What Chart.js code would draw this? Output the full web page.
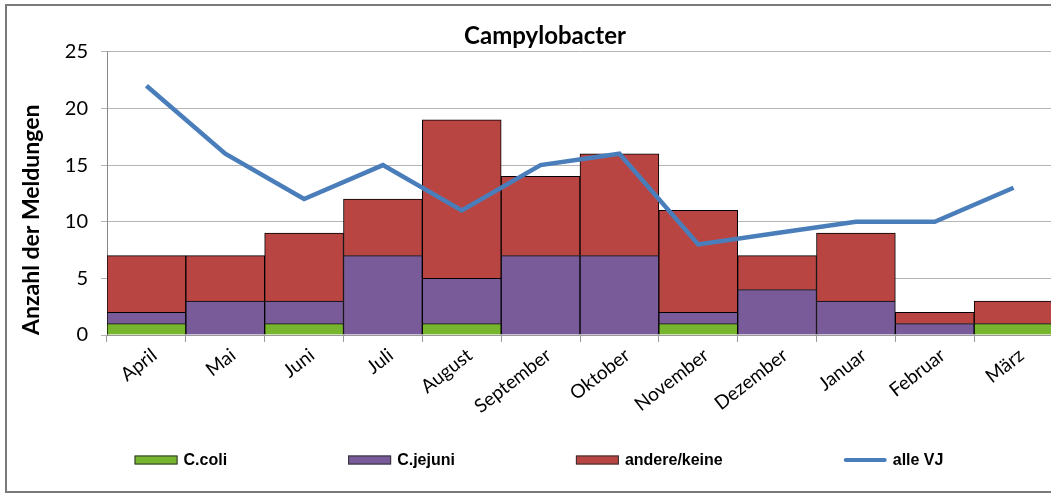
<!DOCTYPE html>
<html>
<head>
<meta charset="utf-8">
<script src="https://cdn.jsdelivr.net/npm/chart.js@4.4.1/dist/chart.umd.min.js"></script>
<style>
    body { margin: 0; background: #fff; overflow: hidden; }
    #frame {
        position: absolute; left: 5px; top: 4px;
        width: 1100px; height: 485px;
        border: 2px solid #7a7a7a;
    }
    #myChart { position: absolute; left: 0; top: 0; }
</style>
</head>
<body>
<div id="frame">
    <canvas id="myChart" width="1046" height="485"></canvas>
</div>
<script>
// --- DATA ---
const months = ['April', 'Mai', 'Juni', 'Juli', 'August', 'September', 'Oktober', 'November', 'Dezember', 'Januar', 'Februar', 'März'];
const cColi = [1, 0, 1, 0, 1, 0, 0, 1, 0, 0, 0, 1];
const cJejuni = [1, 3, 2, 7, 4, 7, 7, 1, 4, 3, 1, 0];
const andere = [5, 4, 6, 5, 14, 7, 9, 9, 3, 6, 1, 2];
const alleVJ = [22, 16, 12, 15, 11, 15, 16, 8, 9, 10, 10, 13];
const yTicks = [0, 5, 10, 15, 20, 25];

// Legende wie im Original: feste Abstände, unter dem Diagramm
const bottomLegend = {
    id: 'bottomLegend',
    afterDraw(chart) {
        const c = chart.ctx;
        const boxW = 43, boxH = 9, gap = 6, itemGap = 121;
        const y = 454;
        c.save();
        c.font = 'bold 16px "Liberation Sans", Arial, sans-serif';
        c.textBaseline = 'middle';
        const items = chart.data.datasets.map(ds => ({
            ds: ds, w: boxW + gap + c.measureText(ds.label).width
        }));
        let total = items.reduce((s, it) => s + it.w, 0) + itemGap * (items.length - 1);
        let x = 532 - total / 2;
        items.forEach(it => {
            if (it.ds.type === 'line') {
                c.strokeStyle = it.ds.borderColor;
                c.lineWidth = 4;
                c.lineCap = 'round';
                c.beginPath();
                c.moveTo(x + 2, y);
                c.lineTo(x + boxW - 2, y);
                c.stroke();
            } else {
                c.fillStyle = it.ds.backgroundColor;
                c.fillRect(x, y - boxH / 2, boxW, boxH);
                c.strokeStyle = '#333';
                c.lineWidth = 1;
                c.strokeRect(x + 0.5, y - boxH / 2 + 0.5, boxW - 1, boxH - 1);
            }
            c.fillStyle = '#000';
            c.fillText(it.ds.label, x + boxW + gap, y + 1);
            x += it.w + itemGap;
        });
        c.restore();
    }
};

const barStyle = { borderColor: '#000', borderWidth: 1, barPercentage: 1, categoryPercentage: 1, stack: 'bars', order: 1 };

const ctx = document.getElementById('myChart').getContext('2d');
new Chart(ctx, {
    data: {
        labels: months,
        datasets: [
            { type: 'bar', label: 'C.coli', data: cColi, backgroundColor: '#77B52F', ...barStyle },
            { type: 'bar', label: 'C.jejuni', data: cJejuni, backgroundColor: '#795B9A', ...barStyle },
            { type: 'bar', label: 'andere/keine', data: andere, backgroundColor: '#B94543', ...barStyle },
            {
                type: 'line', label: 'alle VJ', data: alleVJ,
                borderColor: '#4A7EBB', borderWidth: 4.5, pointRadius: 0,
                tension: 0, stack: 'line', order: 0
            }
        ]
    },
    options: {
        responsive: false,
        animation: false,
        layout: { padding: { left: 30, right: 0, top: 0, bottom: 56 } },
        plugins: {
            legend: { display: false },
            tooltip: { enabled: false },
            title: {
                display: true,
                text: 'Campylobacter',
                color: '#000',
                font: { family: 'Lato', size: 24, weight: 'bold' },
                padding: { top: 16, bottom: 1 }
            }
        },
        scales: {
            x: {
                stacked: true,
                offset: true,
                grid: { offset: true, drawOnChartArea: false, drawTicks: true, tickLength: 7, color: '#999' },
                border: { color: '#999' },
                ticks: {
                    color: '#000', minRotation: 38, maxRotation: 38, padding: 2, labelOffset: 8,
                    font: { family: 'Lato', size: 19 }
                },
                afterFit: s => { s.height = 100; }
            },
            y: {
                stacked: true,
                min: 0, max: 25,
                afterBuildTicks: s => { s.ticks = yTicks.map(v => ({ value: v })); },
                grid: { color: '#b5b5b5', tickLength: 6 },
                border: { color: '#888' },
                ticks: { color: '#000', padding: 13, font: { family: 'Lato', size: 20 } },
                title: {
                    display: true,
                    text: 'Anzahl der Meldungen',
                    align: 'start',
                    color: '#000',
                    font: { family: 'Lato', size: 23, weight: 'bold' },
                    padding: { top: -19, bottom: 0 }
                },
                afterFit: s => { s.width = 70; }
            }
        }
    },
    plugins: [bottomLegend]
});
</script>
</body>
</html>
